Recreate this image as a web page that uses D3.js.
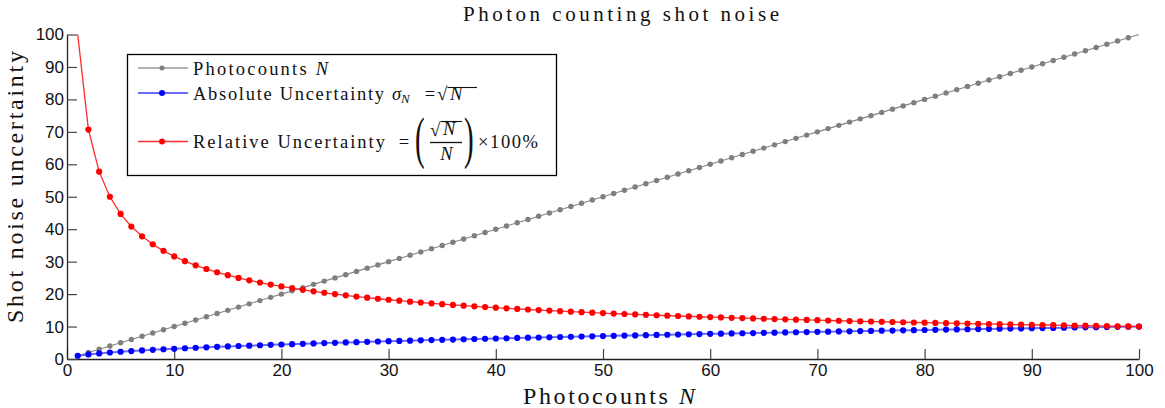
<!DOCTYPE html>
<html>
<head>
<meta charset="utf-8">
<script src="https://cdn.jsdelivr.net/npm/d3@7"></script>
<style>
  html, body { margin: 0; padding: 0; background: #fff; }
  svg { display: block; }
  .serif { font-family: "Liberation Serif", "Times New Roman", serif; fill: #111; }
  .tick text { font-family: "Liberation Sans", Arial, sans-serif; font-size: 17px; fill: #111; }
</style>
</head>
<body>
<svg id="chart" width="1165" height="408"></svg>
<script>
// ---------------- data ----------------
const photocounts = [1,2,3,4,5,6,7,8,9,10,11,12,13,14,15,16,17,18,19,20,
  21,22,23,24,25,26,27,28,29,30,31,32,33,34,35,36,37,38,39,40,
  41,42,43,44,45,46,47,48,49,50,51,52,53,54,55,56,57,58,59,60,
  61,62,63,64,65,66,67,68,69,70,71,72,73,74,75,76,77,78,79,80,
  81,82,83,84,85,86,87,88,89,90,91,92,93,94,95,96,97,98,99,100];

const photocountValues = [1,2,3,4,5,6,7,8,9,10,11,12,13,14,15,16,17,18,19,20,
  21,22,23,24,25,26,27,28,29,30,31,32,33,34,35,36,37,38,39,40,
  41,42,43,44,45,46,47,48,49,50,51,52,53,54,55,56,57,58,59,60,
  61,62,63,64,65,66,67,68,69,70,71,72,73,74,75,76,77,78,79,80,
  81,82,83,84,85,86,87,88,89,90,91,92,93,94,95,96,97,98,99,100];

const absoluteUncertainty = [1.00,1.41,1.73,2.00,2.24,2.45,2.65,2.83,3.00,3.16,
  3.32,3.46,3.61,3.74,3.87,4.00,4.12,4.24,4.36,4.47,
  4.58,4.69,4.80,4.90,5.00,5.10,5.20,5.29,5.39,5.48,
  5.57,5.66,5.74,5.83,5.92,6.00,6.08,6.16,6.24,6.32,
  6.40,6.48,6.56,6.63,6.71,6.78,6.86,6.93,7.00,7.07,
  7.14,7.21,7.28,7.35,7.42,7.48,7.55,7.62,7.68,7.75,
  7.81,7.87,7.94,8.00,8.06,8.12,8.19,8.25,8.31,8.37,
  8.43,8.49,8.54,8.60,8.66,8.72,8.77,8.83,8.89,8.94,
  9.00,9.06,9.11,9.17,9.22,9.27,9.33,9.38,9.43,9.49,
  9.54,9.59,9.64,9.70,9.75,9.80,9.85,9.90,9.95,10.00];

const relativeUncertainty = [100.00,70.71,57.74,50.00,44.72,40.82,37.80,35.36,33.33,31.62,
  30.15,28.87,27.74,26.73,25.82,25.00,24.25,23.57,22.94,22.36,
  21.82,21.32,20.85,20.41,20.00,19.61,19.25,18.90,18.57,18.26,
  17.96,17.68,17.41,17.15,16.90,16.67,16.44,16.22,16.01,15.81,
  15.62,15.43,15.25,15.08,14.91,14.74,14.59,14.43,14.29,14.14,
  14.00,13.87,13.74,13.61,13.48,13.36,13.25,13.13,13.02,12.91,
  12.80,12.70,12.60,12.50,12.40,12.31,12.22,12.13,12.04,11.95,
  11.87,11.79,11.70,11.62,11.55,11.47,11.40,11.32,11.25,11.18,
  11.11,11.04,10.98,10.91,10.85,10.78,10.72,10.66,10.60,10.54,
  10.48,10.43,10.37,10.31,10.26,10.21,10.15,10.10,10.05,10.00];

const xTicks = [0,10,20,30,40,50,60,70,80,90,100];
const yTicks = [0,10,20,30,40,50,60,70,80,90,100];

// ---------------- chart ----------------
const svg = d3.select("#chart");
const x = d3.scaleLinear().domain([0, 100]).range([67, 1139]);
const y = d3.scaleLinear().domain([0, 100]).range([359, 34.5]);

// axes
const xAxis = svg.append("g").attr("transform", `translate(0,${y(0)})`)
  .call(d3.axisBottom(x).tickValues(xTicks).tickSizeInner(-10).tickSizeOuter(0).tickPadding(5));
const yAxis = svg.append("g").attr("transform", `translate(${x(0)},0)`)
  .call(d3.axisLeft(y).tickValues(yTicks).tickSizeInner(-10).tickSizeOuter(0).tickPadding(3));
[xAxis, yAxis].forEach(a => {
  a.select(".domain").attr("stroke", "#222").attr("stroke-width", 1.3);
  a.selectAll(".tick line").attr("stroke", "#444").attr("stroke-width", 1.2);
});

const series = [
  { values: photocountValues, line: "#858585", lw: 1.1, marker: "#7f7f7f", r: 2.7 },
  { values: absoluteUncertainty, line: "#6a6aff", lw: 2, marker: "#0000ff", r: 3.1 },
  { values: relativeUncertainty, line: "#ff2a2a", lw: 1.3, marker: "#ff0000", r: 3.1 }
];

const lineGen = d3.line().x(d => x(d[0])).y(d => y(d[1]));
series.forEach(s => {
  const pts = photocounts.map((n, i) => [n, s.values[i]]);
  svg.append("path").datum(pts)
    .attr("fill", "none").attr("stroke", s.line).attr("stroke-width", s.lw)
    .attr("d", lineGen);
  svg.append("g").selectAll("circle")
    .data(pts.filter(p => p[1] < 100))
    .join("circle")
    .attr("cx", d => x(d[0])).attr("cy", d => y(d[1]))
    .attr("r", s.r).attr("fill", s.marker);
});

// title and axis labels
function stxt(parent, str, px, py, size, len, anchor) {
  const t = parent.append("text").attr("class", "serif")
    .attr("x", px).attr("y", py).attr("font-size", size)
    .attr("text-anchor", anchor || "start").text(str);
  if (len) t.attr("textLength", len).attr("lengthAdjust", "spacing");
  return t;
}

stxt(svg, "Photon counting shot noise", 621, 21, 21, 316, "middle");

const xl = svg.append("text").attr("class", "serif")
  .attr("x", 609).attr("y", 404).attr("font-size", 24).attr("text-anchor", "middle")
  .attr("textLength", 172).attr("lengthAdjust", "spacing");
xl.append("tspan").text("Photocounts ");
xl.append("tspan").attr("font-style", "italic").text("N");

svg.append("text").attr("class", "serif")
  .attr("transform", "translate(23,187) rotate(-90)")
  .attr("font-size", 24).attr("text-anchor", "middle")
  .attr("textLength", 272).attr("lengthAdjust", "spacing")
  .text("Shot noise uncertainty");

// legend
const lg = svg.append("g");
lg.append("rect").attr("x", 127.5).attr("y", 54.5).attr("width", 429).attr("height", 121)
  .attr("fill", "#fff").attr("stroke", "#000").attr("stroke-width", 1.3);

const legendRows = [
  { yy: 68, line: "#9a9a9a", lw: 1.3, marker: "#7f7f7f", r: 2.5 },
  { yy: 93, line: "#6a6aff", lw: 2.2, marker: "#0000ff", r: 3 },
  { yy: 141.5, line: "#ff2a2a", lw: 1.4, marker: "#ff0000", r: 3 }
];
legendRows.forEach(r => {
  lg.append("line").attr("x1", 138).attr("x2", 188).attr("y1", r.yy).attr("y2", r.yy)
    .attr("stroke", r.line).attr("stroke-width", r.lw);
  lg.append("circle").attr("cx", 162).attr("cy", r.yy).attr("r", r.r).attr("fill", r.marker);
});

// row 1
const t1 = lg.append("text").attr("class", "serif").attr("x", 193).attr("y", 74.5)
  .attr("font-size", 18.5).attr("textLength", 135).attr("lengthAdjust", "spacing");
t1.append("tspan").text("Photocounts ");
t1.append("tspan").attr("font-style", "italic").text("N");

// row 2
stxt(lg, "Absolute Uncertainty", 193, 99.5, 18.5, 191);
lg.append("text").attr("class", "serif").attr("x", 392).attr("y", 99.5)
  .attr("font-size", 18.5).attr("font-style", "italic").text("σ");
lg.append("text").attr("class", "serif").attr("x", 401).attr("y", 103)
  .attr("font-size", 13).attr("font-style", "italic").text("N");
lg.append("text").attr("class", "serif").attr("x", 430).attr("y", 99.5)
  .attr("font-size", 18.5).attr("text-anchor", "middle").text("=");
lg.append("text").attr("class", "serif").attr("x", 437).attr("y", 100)
  .attr("font-size", 19).text("√");
lg.append("line").attr("x1", 447.5).attr("x2", 477).attr("y1", 87.5).attr("y2", 87.5)
  .attr("stroke", "#111").attr("stroke-width", 1.1);
lg.append("text").attr("class", "serif").attr("x", 450).attr("y", 99.5)
  .attr("font-size", 18.5).attr("font-style", "italic").text("N");

// row 3
stxt(lg, "Relative Uncertainty", 193, 148, 18.5, 192);
lg.append("text").attr("class", "serif").attr("x", 404).attr("y", 148)
  .attr("font-size", 18.5).attr("text-anchor", "middle").text("=");
lg.append("text").attr("class", "serif")
  .attr("transform", "translate(415,157) scale(0.5,1)")
  .attr("font-size", 58).text("(");
lg.append("text").attr("class", "serif")
  .attr("transform", "translate(464,157) scale(0.5,1)")
  .attr("font-size", 58).text(")");
lg.append("text").attr("class", "serif").attr("x", 430).attr("y", 136)
  .attr("font-size", 19).text("√");
lg.append("line").attr("x1", 440.5).attr("x2", 462).attr("y1", 121.5).attr("y2", 121.5)
  .attr("stroke", "#111").attr("stroke-width", 1.1);
lg.append("text").attr("class", "serif").attr("x", 443).attr("y", 135)
  .attr("font-size", 18.5).attr("font-style", "italic").text("N");
lg.append("line").attr("x1", 430).attr("x2", 462).attr("y1", 142.5).attr("y2", 142.5)
  .attr("stroke", "#111").attr("stroke-width", 1.3);
lg.append("text").attr("class", "serif").attr("x", 446.5).attr("y", 160)
  .attr("font-size", 18.5).attr("font-style", "italic").attr("text-anchor", "middle").text("N");
stxt(lg, "×100%", 478, 148, 18.5, 60);
</script>
</body>
</html>
